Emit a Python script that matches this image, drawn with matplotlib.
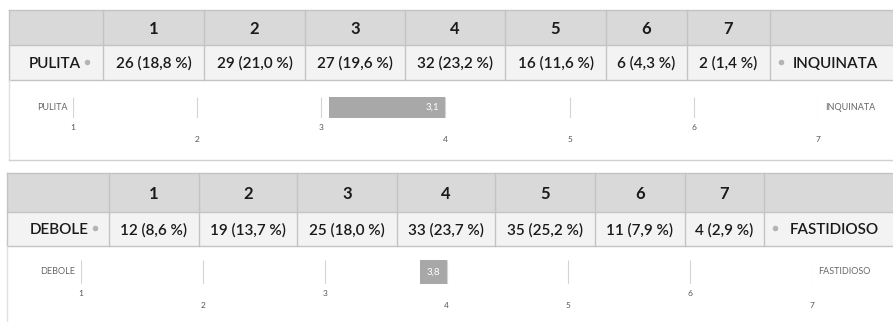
import matplotlib
matplotlib.use("Agg")
import matplotlib.pyplot as plt
from matplotlib.patches import Rectangle

# ---------------- data ----------------
scale_labels = ["1", "2", "3", "4", "5", "6", "7"]
scale_values = [1, 2, 3, 4, 5, 6, 7]
left_labels = ["PULITA", "DEBOLE"]
right_labels = ["INQUINATA", "FASTIDIOSO"]
counts_pulita = [26, 29, 27, 32, 16, 6, 2]
counts_debole = [12, 19, 25, 33, 35, 11, 4]
scale_center = 4

plt.rcParams["font.family"] = ["Lato", "DejaVu Sans"]

W, H = 893, 322
fig = plt.figure(figsize=(W / 100, H / 100), dpi=100)
fig.patch.set_facecolor("white")
ax = fig.add_axes([0, 0, 1, 1])
ax.set_xlim(0, W)
ax.set_ylim(H, 0)
ax.axis("off")

HEAD_BG = "#d9d9d9"
ROW_BG = "#f3f3f3"
BORDER = "#c4c4c4"
TXT = "#1a1a1a"
GRID = "#d4d4d4"
BAR = "#a8a8a8"
DOT = "#b4b4b4"

panels = [
    dict(counts=counts_pulita, left=left_labels[0], right=right_labels[0],
         edges=[9, 103, 204, 305, 405, 505, 606, 687, 770, 893],
         head=(10, 45), row=(45, 80), box=(80, 160),
         grid=(97, 118), px=(73, 818), lab_y=(128, 140),
         ldot=87, rdot=781, rtext=793, small_left=68, small_right=825),
    dict(counts=counts_debole, left=left_labels[1], right=right_labels[1],
         edges=[7, 109, 199, 297, 397, 495, 595, 685, 764, 893],
         head=(173, 212), row=(212, 246), box=(246, 330),
         grid=(260, 284), px=(81, 812), lab_y=(293, 306),
         ldot=95, rdot=775, rtext=790, small_left=75, small_right=818),
]
stagger = [0, 1, 0, 1, 1, 0, 1]

for p in panels:
    e = p["edges"]
    h0, h1 = p["head"]
    r0, r1 = p["row"]
    counts = p["counts"]
    total = sum(counts)
    # header & row backgrounds
    ax.add_patch(Rectangle((e[0], h0), e[-1] - e[0], h1 - h0, facecolor=HEAD_BG,
                           edgecolor="none"))
    ax.add_patch(Rectangle((e[0], r0), e[-1] - e[0], r1 - r0, facecolor=ROW_BG,
                           edgecolor="none"))
    # borders
    for yy in (h0, h1, r1):
        ax.plot([e[0], e[-1]], [yy, yy], color=BORDER, lw=1)
    for xx in e[:-1]:
        ax.plot([xx, xx], [h0, r1], color=BORDER, lw=1)
    # header text
    for i, lab in enumerate(scale_labels):
        cx = (e[i + 1] + e[i + 2]) / 2
        ax.text(cx, (h0 + h1) / 2 + 1, lab, ha="center", va="center",
                fontsize=12, fontweight="bold", color=TXT)
        pct = counts[i] / total * 100
        s = f"{counts[i]} ({pct:.1f} %)".replace(".", ",")
        ax.text(cx, (r0 + r1) / 2 + 1, s, ha="center", va="center",
                fontsize=11, fontweight="semibold", color=TXT)
    # left / right labels in row
    ax.text(p["ldot"] - 6, (r0 + r1) / 2 + 1, p["left"], ha="right", va="center",
            fontsize=11, fontweight="semibold", color=TXT)
    ax.plot([p["ldot"], p["rdot"]], [(r0 + r1) / 2 - 1] * 2, "o", color=DOT,
            ms=4, mec="none")
    ax.text(p["rtext"], (r0 + r1) / 2 + 1, p["right"], ha="left", va="center",
            fontsize=11, fontweight="semibold", color=TXT)
    # chart box borders
    b0, b1 = p["box"]
    ax.plot([e[0], e[0]], [b0, min(b1, H)], color="#e0e0e0", lw=1)
    if b1 < H:
        ax.plot([e[0], e[-1]], [b1, b1], color="#d0d0d0", lw=1)

    # bar chart axes
    g0, g1 = p["grid"]
    x0, x1 = p["px"]
    bax = fig.add_axes([x0 / W, 1 - g1 / H, (x1 - x0) / W, (g1 - g0) / H])
    bax.set_xlim(1, 7)
    bax.set_ylim(-0.5, 0.5)
    bax.axis("off")
    bax.vlines(scale_values, -0.5, 0.5, color=GRID, lw=0.8)
    mean = sum(v * c for v, c in zip(scale_values, counts)) / total
    bax.barh(0, scale_center - mean, left=mean, height=1.0, color=BAR)
    bax.text(scale_center - 0.05, 0, f"{mean:.1f}".replace(".", ","),
             ha="right", va="center", fontsize=7, color="white")
    gh = g1 - g0
    for v, lab, st in zip(scale_values, scale_labels, stagger):
        yl = p["lab_y"][st]
        bax.text(v, 0.5 - (yl - g0) / gh, lab, ha="center", va="center",
                 fontsize=6, color="#555555")
    ax.text(p["small_left"], (g0 + g1) / 2, p["left"], ha="right", va="center",
            fontsize=6.5, color="#666666")
    ax.text(p["small_right"], (g0 + g1) / 2, p["right"], ha="left", va="center",
            fontsize=6.5, color="#666666")

fig.savefig("out.png", dpi=100, facecolor="white")
